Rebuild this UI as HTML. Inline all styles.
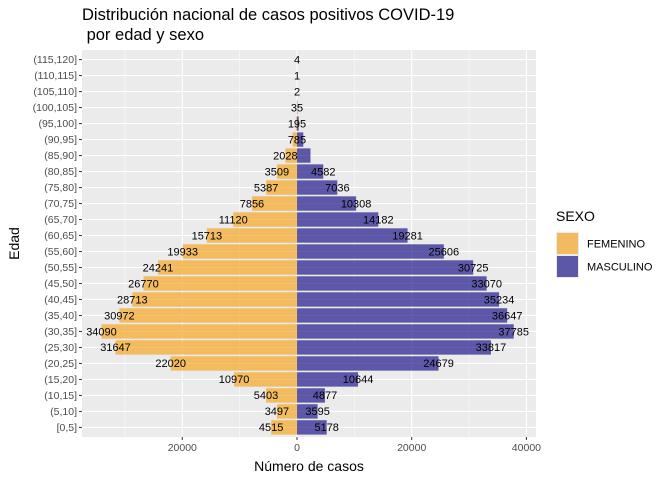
<!DOCTYPE html><html><head><meta charset="utf-8"><style>body{margin:0;background:#fff}svg{font-family:"Liberation Sans",sans-serif}</style></head><body>
<svg id="c" width="672" height="480"></svg>
<script>
const categories=["[0,5]","(5,10]","(10,15]","(15,20]","(20,25]","(25,30]","(30,35]","(35,40]","(40,45]","(45,50]","(50,55]","(55,60]","(60,65]","(65,70]","(70,75]","(75,80]","(80,85]","(85,90]","(90,95]","(95,100]","(100,105]","(105,110]","(110,115]","(115,120]"];
const femenino=[4515,3497,5403,10970,22020,31647,34090,30972,28713,26770,24241,19933,15713,11120,7856,5387,3509,2028,785,195,35,2,1,4];
const masculino=[5178,3595,4877,10644,24679,33817,37785,36647,35234,33070,30725,25606,19281,14182,10308,7036,4582,2350,1100,300,60,3,1,5];
const femShown=[1,1,1,1,1,1,1,1,1,1,1,1,1,1,1,1,1,1,1,1,1,1,1,1];
const mascShown=[1,1,1,1,1,1,1,1,1,1,1,1,1,1,1,1,1,0,0,0,0,0,0,0];
const xTicks=[-20000,0,20000,40000];
const xTickLabels=["20000","0","20000","40000"];
const NS="http://www.w3.org/2000/svg",s=document.getElementById('c');
const L=82,R=536,T=50,B=437,x0=297,k=114.7/20000;
const X=v=>x0+v*k,band=(B-T)/(categories.length-1+1.2),Y=i=>B-(0.6+i)*band;
function e(t,a,p){const n=document.createElementNS(NS,t);for(const q in a)n.setAttribute(q,a[q]);(p||s).appendChild(n);return n}
const title=e('text',{x:82,y:20,'font-size':16.5,fill:'#000'});
title.innerHTML='<tspan x="82" y="20">Distribución nacional de casos positivos COVID-19</tspan><tspan x="82" y="40"> por edad y sexo</tspan>';
const bg=e('rect',{x:L,y:T,width:R-L,height:B-T,fill:'#EBEBEB'});
[-30000,-10000,10000,30000].forEach(v=>e('line',{x1:X(v),x2:X(v),y1:T,y2:B,stroke:'#fff','stroke-width':0.5}));
xTicks.forEach(v=>e('line',{x1:X(v),x2:X(v),y1:T,y2:B,stroke:'#fff','stroke-width':1.1}));
categories.forEach((c,i)=>e('line',{x1:L,x2:R,y1:Y(i),y2:Y(i),stroke:'#fff','stroke-width':1.1}));
const bh=band*0.9;
categories.forEach((c,i)=>{
 let f=femenino[i],m=masculino[i];
 const rf=e('rect',{x:X(-f),y:Y(i)-bh/2,width:f*k,height:bh,fill:'#F5A623','fill-opacity':0.7});
 
 const rm=e('rect',{x:x0,y:Y(i)-bh/2,width:m*k,height:bh,fill:'#1F1A8A','fill-opacity':0.7});
 
 if(femShown[i]){const t=e('text',{x:i>17?x0:X(-f),y:Y(i)+3.8,'font-size':11,'text-anchor':'middle'});t.textContent=f;}
 if(mascShown[i]){const t2=e('text',{x:X(m),y:Y(i)+3.8,'font-size':11,'text-anchor':'middle'});t2.textContent=m;}
 e('line',{x1:L-3,x2:L,y1:Y(i),y2:Y(i),stroke:'#333'});
 const yl=e('text',{x:L-5,y:Y(i)+3.5,'font-size':10.5,'text-anchor':'end',fill:'#4D4D4D'});yl.textContent=c;
});
xTicks.forEach((v,i)=>{e('line',{x1:X(v),x2:X(v),y1:B,y2:B+3,stroke:'#333'});const t=e('text',{x:X(v),y:B+14,'font-size':10.5,'text-anchor':'middle',fill:'#4D4D4D'});t.textContent=xTickLabels[i];});
const xt=e('text',{x:(L+R)/2,y:471,'font-size':14,'text-anchor':'middle'});xt.textContent='Número de casos';
const yt=e('text',{x:19,y:(T+B)/2,'font-size':14,'text-anchor':'middle',transform:`rotate(-90 19 ${(T+B)/2})`});yt.textContent='Edad';
const lg=e('g',{});
const lt=e('text',{x:556,y:221,'font-size':14},lg);lt.textContent='SEXO';
[['FEMENINO','#F5A623'],['MASCULINO','#1F1A8A']].forEach((d,i)=>{
 const y=232+i*23;e('rect',{x:556,y:y,width:23,height:23,fill:'#EBEBEB'},lg);
 e('rect',{x:557,y:y+1,width:21,height:21,fill:d[1],'fill-opacity':0.7},lg);
 const t=e('text',{x:587,y:y+15.5,'font-size':11},lg);t.textContent=d[0];
});
</script></body></html>
